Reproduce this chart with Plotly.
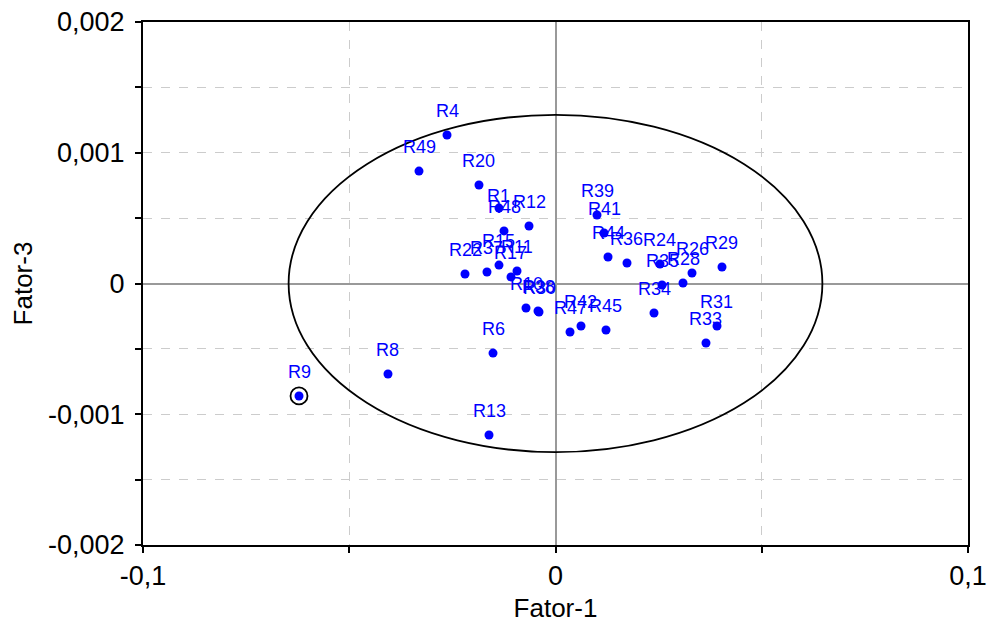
import plotly.graph_objects as go

# ---- data ----
labels = ["R4", "R49", "R20", "R1", "R48", "R12", "R22", "R37", "R15", "R11", "R17",
          "R10", "R38", "R30", "R47", "R42", "R45", "R6", "R8", "R9", "R13",
          "R39", "R41", "R44", "R36", "R24", "R35", "R28", "R26", "R29", "R34", "R31", "R33"]
fator1 = [-0.02630, -0.03309, -0.01855, -0.01370, -0.01248, -0.00642, -0.02194, -0.01661,
          -0.01370, -0.00933, -0.01079, -0.00715, -0.00424, -0.00400, 0.00352, 0.00618,
          0.01224, -0.01515, -0.04061, -0.06218, -0.01612, 0.01006, 0.01176, 0.01273,
          0.01733, 0.02533, 0.02582, 0.03091, 0.03309, 0.04036, 0.02388, 0.03915, 0.03648]
fator3 = [0.001136, 0.000860, 0.000753, 0.000577, 0.000402, 0.000440, 0.0000727, 0.000088,
          0.000141, 0.0000956, 0.0000497, -0.000187, -0.000210, -0.000218, -0.000371,
          -0.000325, -0.000356, -0.000532, -0.000692, -0.000860, -0.001159, 0.000524,
          0.000386, 0.000203, 0.000157, 0.000149, -0.0000115, 0.0000038, 0.0000803,
          0.000126, -0.000226, -0.000325, -0.000455]
highlighted = ["R9"]

ellipse_rx = 0.0647
ellipse_ry = 0.00129

x_tickvals = [-0.1, -0.05, 0.0, 0.05, 0.1]
x_ticktext = ["-0,1", "", "0", "", "0,1"]
y_tickvals = [-0.002, -0.0015, -0.001, -0.0005, 0.0, 0.0005, 0.001, 0.0015, 0.002]
y_ticktext = ["-0,002", "", "-0,001", "", "0", "", "0,001", "", "0,002"]

FONT = "Liberation Sans, Arial, sans-serif"
BLUE = "#0000ff"

fig = go.Figure()

fig.add_shape(type="circle", xref="x", yref="y",
              x0=-ellipse_rx, x1=ellipse_rx, y0=-ellipse_ry, y1=ellipse_ry,
              line=dict(color="black", width=1.8), layer="above")

fig.add_trace(go.Scatter(x=fator1, y=fator3, mode="markers",
                         marker=dict(color=BLUE, size=9, line=dict(width=0)),
                         hoverinfo="skip", showlegend=False))

hx = [fator1[labels.index(h)] for h in highlighted]
hy = [fator3[labels.index(h)] for h in highlighted]
fig.add_trace(go.Scatter(x=hx, y=hy, mode="markers",
                         marker=dict(symbol="circle-open", size=17, color="black",
                                     line=dict(color="black", width=1.8)),
                         hoverinfo="skip", showlegend=False))

for lab, xv, yv in zip(labels, fator1, fator3):
    shift = 12 if lab == "R1" else 24
    fig.add_annotation(x=xv, y=yv, text=lab, showarrow=False,
                       xanchor="center", yanchor="middle", yshift=shift,
                       font=dict(family=FONT, size=18, color=BLUE))

axis_common = dict(showline=True, mirror=True, linecolor="black", linewidth=2,
                   ticks="outside", ticklen=6, tickwidth=2, tickcolor="black",
                   showgrid=True, gridcolor="#cccccc", griddash="dash", gridwidth=1,
                   zeroline=True, zerolinecolor="#999999", zerolinewidth=2,
                   automargin=False,
                   tickfont=dict(family=FONT, size=27, color="black"),
                   title_font=dict(family=FONT, size=26, color="black"))

fig.update_xaxes(range=[-0.1, 0.1], tickmode="array", tickvals=x_tickvals,
                 ticktext=x_ticktext, title_text="Fator-1", title_standoff=8,
                 **axis_common)
fig.update_yaxes(range=[-0.002, 0.002], tickmode="array", tickvals=y_tickvals,
                 ticktext=y_ticktext, title_text="Fator-3", title_standoff=8,
                 ticklabelstandoff=5, **axis_common)

fig.update_layout(width=989, height=626,
                  margin=dict(l=143, r=21, t=22, b=81),
                  paper_bgcolor="white", plot_bgcolor="white",
                  font=dict(family=FONT), showlegend=False)

fig.write_html("out.html")
